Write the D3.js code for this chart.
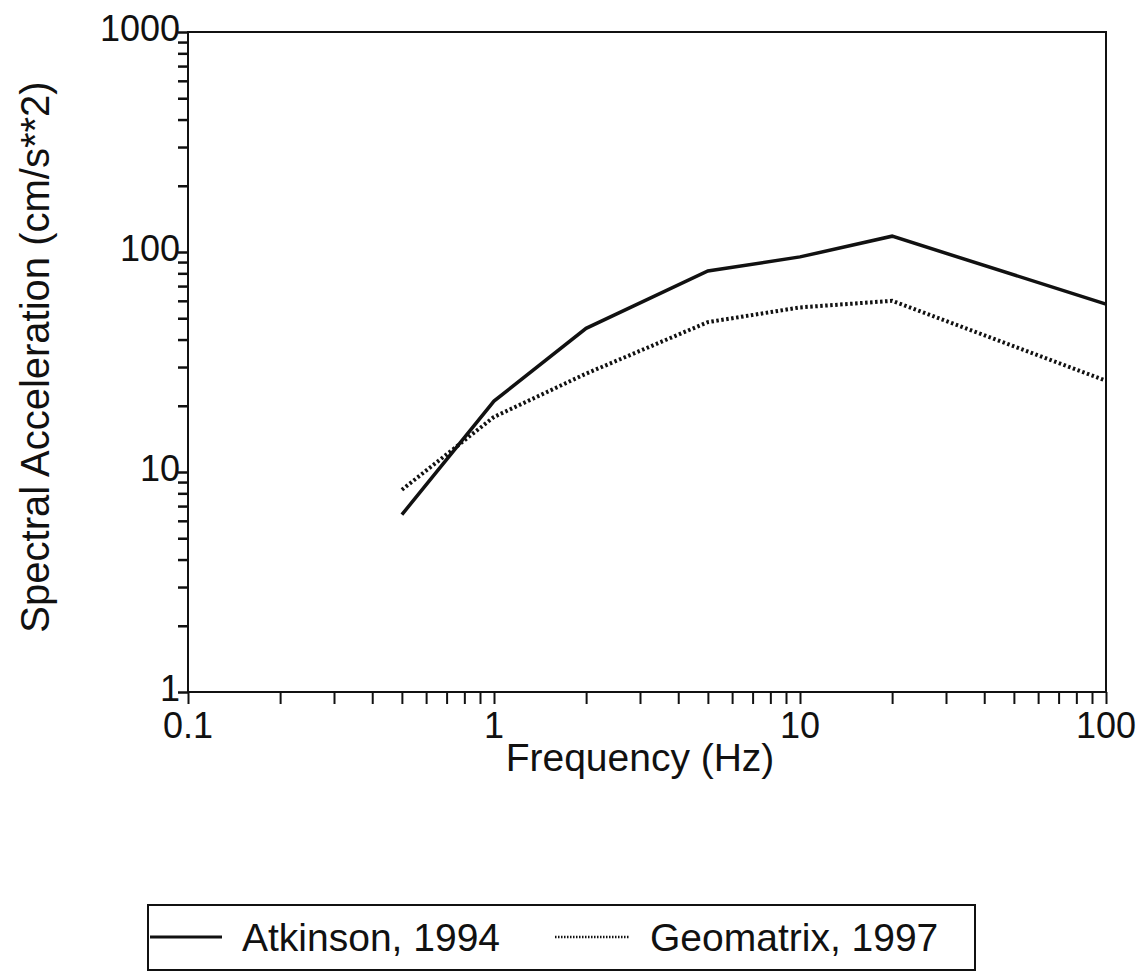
<!DOCTYPE html>
<html>
<head>
<meta charset="utf-8">
<script src="https://cdn.jsdelivr.net/npm/d3@7"></script>
<style>
  body { margin: 0; background: #fff; }
  text { font-family: "Liberation Sans", Arial, sans-serif; fill: #111; }
</style>
</head>
<body>
<div id="chart"></div>
<script>
var freq = [0.5, 1, 2, 5, 10, 20, 100];
var atkinson = [6.4, 21, 45, 82, 95, 118, 58];
var geomatrix = [8.3, 17.8, 28, 48, 56, 60, 26];
var xTicks = [0.1, 1, 10, 100];
var yTicks = [1, 10, 100, 1000];
var seriesNames = ["Atkinson, 1994", "Geomatrix, 1997"];

var svg = d3.select("#chart").append("svg")
  .attr("width", 1138)
  .attr("height", 980);

var plotL = 188, plotR = 1106, plotT = 32, plotB = 692;

var x = d3.scaleLog().domain([0.1, 100]).range([plotL, plotR]);
var y = d3.scaleLog().domain([1, 1000]).range([plotB, plotT]);

// minor ticks for each decade
function minors(lo, hi) {
  var out = [];
  for (var d = lo; d < hi; d *= 10) {
    for (var k = 2; k <= 9; k++) out.push(d * k);
  }
  return out;
}

// x axis
svg.append("g")
  .attr("transform", "translate(0," + plotB + ")")
  .call(d3.axisBottom(x).tickValues(minors(0.1, 100).concat(xTicks)).tickSize(12).tickFormat(""))
  .call(function (g) {
    g.select(".domain").remove();
    g.selectAll("line").attr("stroke", "#111").attr("stroke-width", 2);
  });

svg.selectAll(".xlab")
  .data(xTicks)
  .enter().append("text")
  .attr("x", function (d) { return x(d); })
  .attr("y", plotB + 46)
  .attr("text-anchor", "middle")
  .attr("font-size", 36)
  .text(function (d) { return d; });

// y axis
svg.append("g")
  .attr("transform", "translate(" + plotL + ",0)")
  .call(d3.axisLeft(y).tickValues(minors(1, 1000).concat(yTicks)).tickSize(10).tickFormat(""))
  .call(function (g) {
    g.select(".domain").remove();
    g.selectAll("line").attr("stroke", "#111").attr("stroke-width", 2.5);
  });

svg.selectAll(".ylab")
  .data(yTicks)
  .enter().append("text")
  .attr("x", plotL - 8)
  .attr("y", function (d) { return y(d) + 9; })
  .attr("text-anchor", "end")
  .attr("font-size", 36)
  .text(function (d) { return d; });

// frame
svg.append("rect")
  .attr("x", plotL)
  .attr("y", plotT)
  .attr("width", plotR - plotL)
  .attr("height", plotB - plotT)
  .attr("fill", "none")
  .attr("stroke", "#111")
  .attr("stroke-width", 2);

// axis titles
svg.append("text")
  .attr("x", 640)
  .attr("y", 771)
  .attr("text-anchor", "middle")
  .attr("font-size", 39)
  .text("Frequency (Hz)");

svg.append("text")
  .attr("transform", "translate(49," + 357 + ") rotate(-90)")
  .attr("text-anchor", "middle")
  .attr("font-size", 40)
  .text("Spectral Acceleration (cm/s**2)");

// lines
var line = d3.line()
  .x(function (d) { return x(d[0]); })
  .y(function (d) { return y(d[1]); });

svg.append("path")
  .datum(d3.zip(freq, atkinson))
  .attr("d", line)
  .attr("fill", "none")
  .attr("stroke", "#111")
  .attr("stroke-width", 3.5);

svg.append("path")
  .datum(d3.zip(freq, geomatrix))
  .attr("d", line)
  .attr("fill", "none")
  .attr("stroke", "#111")
  .attr("stroke-width", 4)
  .attr("stroke-dasharray", "2.5,2.5");

// legend
svg.append("rect")
  .attr("x", 148)
  .attr("y", 905)
  .attr("width", 827)
  .attr("height", 65)
  .attr("fill", "none")
  .attr("stroke", "#111")
  .attr("stroke-width", 2);

svg.append("line")
  .attr("x1", 150).attr("x2", 222)
  .attr("y1", 937).attr("y2", 937)
  .attr("stroke", "#111").attr("stroke-width", 3);

svg.append("text")
  .attr("x", 242).attr("y", 951)
  .attr("font-size", 39)
  .text(seriesNames[0]);

svg.append("line")
  .attr("x1", 555).attr("x2", 630)
  .attr("y1", 937).attr("y2", 937)
  .attr("stroke", "#111").attr("stroke-width", 2.5)
  .attr("stroke-dasharray", "1.5,1.5");

svg.append("text")
  .attr("x", 650).attr("y", 951)
  .attr("font-size", 39)
  .text(seriesNames[1]);
</script>
</body>
</html>
